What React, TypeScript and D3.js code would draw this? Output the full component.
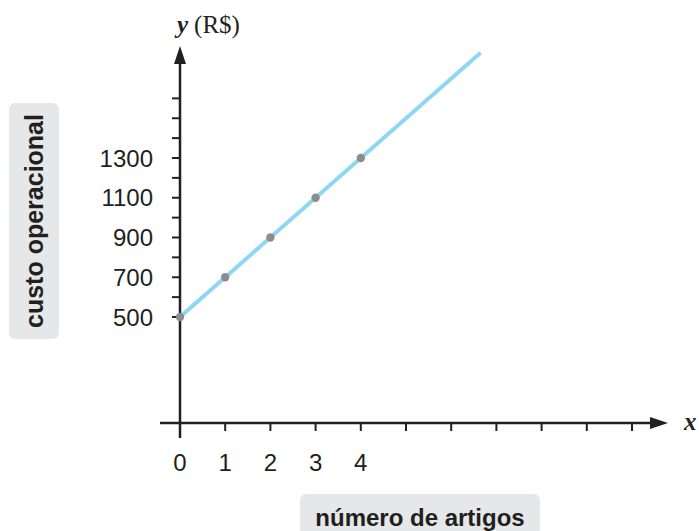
import * as d3 from "d3";

// values
const articles = [0, 1, 2, 3, 4];
const costs = [500, 700, 900, 1100, 1300];
const xTicks = [0, 1, 2, 3, 4, 5, 6, 7, 8, 9, 10];
const xLabels = [0, 1, 2, 3, 4];
const yTicks = [500, 600, 700, 800, 900, 1000, 1100, 1200, 1300, 1400, 1500, 1600];
const yLabels = [500, 700, 900, 1100, 1300];
const lineEnd = { x: 6.65, y: 1830 };

const W = 699;
const H = 531;
const ink = "#231f20";
const sans = "'Liberation Sans', Arial, sans-serif";
const serif = "'Liberation Serif', 'Times New Roman', serif";

function App() {
  const x = d3.scaleLinear().domain([0, 10]).range([180, 632]);
  const y = d3.scaleLinear().domain([500, 1300]).range([317, 158]);
  const axisY = 423; // x axis baseline
  const x0 = x(0);

  const pts = articles.map((a, i) => ({ x: a, y: costs[i] }));
  const line = d3
    .line<{ x: number; y: number }>()
    .x((d) => x(d.x))
    .y((d) => y(d.y));

  return (
    <div style={{ position: "absolute", left: 0, top: 0 }}>
      <svg width={W} height={H} style={{ display: "block", background: "#fff" }}>
        {/* y title */}
        <text x={177} y={33} fontFamily={serif} fontSize={25} fill={ink}>
          <tspan fontWeight="bold" fontStyle="italic">y</tspan>
          <tspan dx={6}>(R$)</tspan>
        </text>

        {/* left label box */}
        <rect x={9} y={103} width={50} height={236} rx={6} fill="#e6e7e8" />
        <text
          transform={`translate(43,${221}) rotate(-90)`}
          textAnchor="middle"
          fontFamily={sans}
          fontWeight="bold"
          fontSize={25}
          fill={ink}
        >
          custo operacional
        </text>

        {/* bottom label box */}
        <rect x={300} y={494} width={240} height={45} rx={6} fill="#e6e7e8" />
        <text
          x={420}
          y={526}
          textAnchor="middle"
          fontFamily={sans}
          fontWeight="bold"
          fontSize={24}
          fill={ink}
        >
          número de artigos
        </text>

        {/* dotted guide */}
        <line
          x1={x0}
          x2={x0}
          y1={y(500)}
          y2={axisY}
          stroke={ink}
          strokeWidth={2}
          strokeDasharray="5,4"
        />

        {/* y axis */}
        <line x1={x0} x2={x0} y1={438} y2={60} stroke={ink} strokeWidth={2.5} />
        <path d={`M${x0},46 L${x0 - 6},64 L${x0 + 6},64 Z`} fill={ink} />
        {yTicks.map((t) => (
          <line key={t} x1={x0 - 8} x2={x0} y1={y(t)} y2={y(t)} stroke={ink} strokeWidth={2} />
        ))}
        {yLabels.map((t) => (
          <text
            key={t}
            x={153}
            y={y(t)}
            dy="0.36em"
            textAnchor="end"
            fontFamily={sans}
            fontSize={24}
            fill={ink}
          >
            {t}
          </text>
        ))}

        {/* x axis */}
        <line x1={160} x2={655} y1={axisY} y2={axisY} stroke={ink} strokeWidth={2.5} />
        <path d={`M668,${axisY} L650,${axisY - 6} L650,${axisY + 6} Z`} fill={ink} />
        {xTicks.slice(1).map((t) => (
          <line key={t} x1={x(t)} x2={x(t)} y1={axisY} y2={axisY + 8} stroke={ink} strokeWidth={2} />
        ))}
        {xLabels.map((t) => (
          <text
            key={t}
            x={x(t)}
            y={462}
            dy="0.36em"
            textAnchor="middle"
            fontFamily={sans}
            fontSize={24}
            fill={ink}
          >
            {t}
          </text>
        ))}
        <text x={684} y={430} fontFamily={serif} fontStyle="italic" fontWeight="bold" fontSize={25} fill={ink}>
          x
        </text>

        {/* cost line */}
        <path
          d={line([pts[0], lineEnd]) || ""}
          fill="none"
          stroke="#8dd7f4"
          strokeWidth={4}
        />
        {pts.map((d) => (
          <circle key={d.x} cx={x(d.x)} cy={y(d.y)} r={4.2} fill="#8c8c8e" />
        ))}
      </svg>
    </div>
  );
}

export default App;
